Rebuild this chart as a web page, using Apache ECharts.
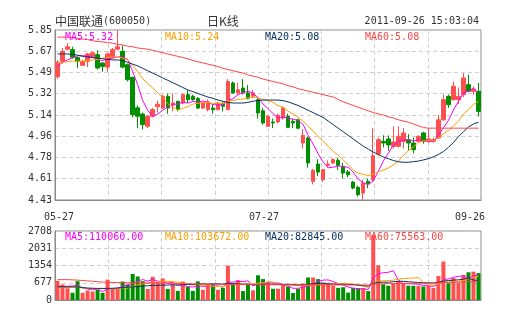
<!DOCTYPE html>
<html><head><meta charset="utf-8">
<script src="https://cdn.jsdelivr.net/npm/echarts@6/dist/echarts.min.js"></script>
<style>html,body{margin:0;padding:0;background:#fff}#c{width:505px;height:330px}</style>
</head><body><div id="c"></div>
<script>
const dates = ['05-27','05-30','05-31',
'06-01','06-02','06-03','06-07','06-08','06-09','06-10','06-13','06-14','06-15','06-16','06-17','06-20','06-21','06-22','06-23','06-24','06-27','06-28','06-29','06-30',
'07-01','07-04','07-05','07-06','07-07','07-08','07-11','07-12','07-13','07-14','07-15','07-18','07-19','07-20','07-21','07-22','07-25','07-26','07-27','07-28','07-29',
'08-01','08-02','08-03','08-04','08-05','08-08','08-09','08-10','08-11','08-12','08-15','08-16','08-17','08-18','08-19','08-22','08-23','08-24','08-25','08-26','08-29','08-30','08-31',
'09-01','09-02','09-05','09-06','09-07','09-08','09-09','09-13','09-14','09-15','09-16','09-19','09-20','09-21','09-22','09-23','09-26'];

const opens = [5.46,5.588,5.69,5.686,5.62,5.555,5.588,5.63,5.644,5.574,
5.54,5.62,5.69,5.672,5.56,5.455,5.20,5.148,5.046,5.13,
5.21,5.198,5.296,5.223,5.254,5.24,5.31,5.296,5.277,5.198,
5.185,5.198,5.185,5.232,5.185,5.407,5.324,5.365,5.324,5.296,
5.268,5.176,5.046,5.082,5.082,5.115,5.129,5.087,5.10,4.906,
4.948,4.586,4.73,4.60,4.72,4.739,4.762,4.71,4.665,4.58,
4.536,4.488,4.586,4.60,4.814,4.92,4.94,4.878,4.878,4.92,
4.934,4.906,4.92,4.99,4.92,4.92,4.948,5.10,5.296,5.268,
5.268,5.31,5.393,5.338,5.338];
const closes = [5.58,5.672,5.71,5.622,5.59,5.588,5.65,5.66,5.533,5.546,
5.65,5.686,5.71,5.54,5.435,5.143,5.13,5.06,5.129,5.185,
5.23,5.296,5.198,5.24,5.185,5.31,5.268,5.268,5.198,5.24,
5.25,5.185,5.24,5.213,5.42,5.324,5.35,5.324,5.28,5.324,
5.157,5.073,5.13,5.074,5.137,5.198,5.037,5.073,5.03,4.97,
4.739,4.678,4.663,4.684,4.73,4.767,4.72,4.655,4.64,4.53,
4.474,4.572,4.567,4.80,4.934,4.906,4.89,4.914,4.962,4.99,
4.906,4.85,4.962,4.92,4.94,4.935,5.10,5.268,5.226,5.38,
5.296,5.449,5.338,5.357,5.17];
const lows = [5.44,5.57,5.68,5.61,5.53,5.55,5.54,5.62,5.52,5.50,
5.50,5.61,5.68,5.53,5.42,5.12,5.03,5.02,5.03,5.12,
5.16,5.19,5.15,5.17,5.17,5.23,5.24,5.26,5.19,5.19,
5.17,5.15,5.18,5.17,5.18,5.32,5.31,5.31,5.27,5.28,
5.11,5.06,5.04,5.03,5.07,5.10,5.03,5.03,5.02,4.86,
4.70,4.56,4.63,4.58,4.70,4.73,4.68,4.61,4.62,4.52,
4.46,4.43,4.53,4.59,4.80,4.87,4.84,4.86,4.87,4.86,
4.84,4.82,4.91,4.90,4.91,4.91,4.94,5.09,5.20,5.26,
5.23,5.29,5.33,5.31,5.128];
const highs = [5.60,5.70,5.74,5.71,5.63,5.60,5.66,5.67,5.68,5.58,
5.66,5.70,5.85,5.72,5.57,5.46,5.22,5.16,5.14,5.20,
5.26,5.31,5.32,5.32,5.26,5.32,5.35,5.31,5.29,5.25,
5.27,5.23,5.25,5.25,5.44,5.42,5.41,5.44,5.39,5.35,
5.28,5.20,5.14,5.11,5.15,5.21,5.15,5.11,5.11,5.02,
4.96,4.69,4.77,4.69,4.76,4.78,4.78,4.74,4.68,4.59,
4.55,4.60,4.61,5.03,4.95,4.97,4.97,5.045,5.045,5.03,
4.98,4.95,4.97,5.00,5.03,4.95,5.14,5.31,5.31,5.42,
5.37,5.49,5.476,5.38,5.407];

const ma5 = [5.545,5.58,5.60,5.62,5.635,5.636,5.632,5.622,5.604,5.595,
5.608,5.615,5.625,5.626,5.604,5.503,5.392,5.262,5.179,5.129,
5.147,5.18,5.208,5.23,5.23,5.246,5.24,5.254,5.246,5.257,
5.245,5.228,5.223,5.226,5.262,5.276,5.309,5.326,5.34,5.32,
5.287,5.232,5.193,5.152,5.114,5.122,5.115,5.104,5.095,5.062,
4.97,4.898,4.816,4.747,4.699,4.704,4.713,4.711,4.702,4.662,
4.604,4.574,4.557,4.589,4.669,4.756,4.819,4.889,4.921,4.932,
4.932,4.924,4.934,4.926,4.916,4.921,4.971,5.033,5.094,5.182,
5.254,5.324,5.338,5.364,5.322];
const ma10 = [5.57,5.58,5.585,5.59,5.59,5.59,5.595,5.60,5.605,5.615,
5.622,5.624,5.624,5.615,5.60,5.555,5.503,5.443,5.403,5.367,
5.325,5.286,5.235,5.205,5.18,5.196,5.21,5.231,5.238,5.243,
5.245,5.234,5.238,5.236,5.259,5.261,5.269,5.274,5.283,5.291,
5.282,5.271,5.26,5.246,5.217,5.205,5.173,5.148,5.123,5.088,
5.046,5.007,4.96,4.921,4.88,4.837,4.805,4.764,4.725,4.681,
4.654,4.644,4.634,4.646,4.666,4.68,4.697,4.723,4.755,4.801,
4.844,4.872,4.911,4.923,4.924,4.927,4.948,4.983,5.01,5.049,
5.088,5.148,5.185,5.229,5.252];
const ma20 = [5.65,5.65,5.65,5.645,5.64,5.63,5.625,5.62,5.615,5.61,
5.605,5.60,5.60,5.595,5.58,5.565,5.55,5.53,5.51,5.49,
5.47,5.45,5.43,5.41,5.39,5.37,5.35,5.335,5.32,5.305,
5.29,5.28,5.265,5.255,5.245,5.24,5.24,5.24,5.245,5.255,
5.26,5.265,5.265,5.265,5.265,5.26,5.25,5.235,5.22,5.20,
5.18,5.16,5.14,5.12,5.09,5.06,5.03,5.00,4.97,4.94,
4.91,4.88,4.855,4.83,4.81,4.79,4.775,4.76,4.75,4.745,
4.745,4.75,4.755,4.765,4.775,4.79,4.81,4.835,4.87,4.91,
4.96,5.00,5.04,5.065,5.08];
const ma60 = [5.79,5.79,5.79,5.785,5.78,5.775,5.77,5.76,5.755,5.75,
5.745,5.74,5.73,5.725,5.715,5.71,5.70,5.695,5.69,5.68,
5.67,5.66,5.65,5.64,5.63,5.62,5.61,5.595,5.585,5.575,
5.565,5.555,5.545,5.53,5.52,5.51,5.50,5.49,5.475,5.465,
5.455,5.44,5.43,5.42,5.41,5.40,5.385,5.375,5.36,5.35,
5.34,5.33,5.32,5.31,5.30,5.29,5.27,5.25,5.235,5.22,
5.205,5.19,5.175,5.16,5.15,5.14,5.125,5.115,5.10,5.09,
5.08,5.065,5.05,5.035,5.03,5.03,5.03,5.03,5.03,5.03,
5.03,5.03,5.03,5.03,5.03];

const volumes = [750,610,460,283,739,283,369,332,394,283,
800,431,431,726,603,1022,923,739,431,911,
702,849,431,603,357,726,517,357,730,400,
610,630,400,478,1350,650,780,350,635,380,
970,820,690,440,440,615,528,274,440,640,
884,884,820,674,677,570,476,502,290,476,
465,465,350,2550,1360,617,560,645,752,650,
560,560,550,531,560,476,940,1510,655,858,
686,985,1088,1113,1055];
const vma5 = [520,530,540,550,568,475,427,401,423,332,
436,448,468,534,598,643,741,803,744,805,
741,726,665,699,588,593,527,512,537,546,
523,545,554,504,694,702,732,722,753,559,
623,631,699,660,672,601,543,459,459,499,
553,624,734,780,788,725,643,580,503,463,
442,440,409,861,1038,1068,1087,1146,787,645,
633,633,614,570,552,535,611,803,828,888,
930,939,854,946,985];
const vma10 = [480,485,490,495,500,470,450,440,440,450,
455,437,435,479,465,539,595,635,639,702,
692,734,734,721,697,667,627,588,618,567,
558,536,533,521,620,612,639,638,628,626,
662,681,710,707,616,612,587,579,560,586,
577,584,597,620,644,639,634,657,642,625,
583,542,495,682,750,755,764,778,824,841,
851,860,880,679,599,584,622,709,699,720,
733,775,829,887,937];
const vma20 = [517,517,517,517,510,490,470,460,455,455,
455,460,470,490,505,515,530,545,560,576,
574,586,584,600,581,603,611,612,629,634,
625,635,633,621,658,640,633,613,623,597,
610,609,622,614,618,612,613,609,594,606,
620,632,653,663,630,626,610,618,601,606,
580,563,546,651,697,697,699,717,733,733,
717,701,687,680,674,670,693,743,762,781,
792,818,855,783,768];
const vma60 = [800,800,800,790,780,765,750,735,720,705,
695,690,685,680,680,678,676,674,672,670,
665,660,655,650,645,640,636,632,628,625,
622,620,618,616,614,612,610,608,606,604,
602,600,600,598,598,596,596,594,594,592,
592,592,592,592,592,592,590,590,590,590,
590,590,590,615,630,635,640,645,650,652,
654,656,658,660,663,666,672,685,692,700,
706,712,720,726,735];

const priceTicks = ['4.43','4.61','4.78','4.96','5.14','5.32','5.49','5.67','5.85'];
const volTicks = ['0','677','1354','2031','2708'];
const xTickIdx = [0, 42, 84];

const priceMin = 4.43, priceMax = 5.85, priceStep = (5.85 - 4.43) / 8;
const volMax = 2708, volStep = 677;

const UP = '#ff4f4f', DOWN = '#008f00';
const C5 = '#ff00ff', C10 = '#ffa000', C20 = '#0a3264', C60 = '#ff4545';
const MONO = 'DejaVu Sans Mono';
const CJK = 'Noto Sans CJK SC';

const kData = opens.map((o, i) => [o, closes[i], lows[i], highs[i]]);
const volData = volumes.map((v, i) => ({
  value: v,
  itemStyle: { color: closes[i] >= opens[i] ? UP : DOWN }
}));

const dashed = { show: true, lineStyle: { color: '#d0d0d0', type: [4, 3], width: 1 } };

function line(name, data, color, xi, yi) {
  return { name, type: 'line', data, xAxisIndex: xi, yAxisIndex: yi, symbol: 'none',
    lineStyle: { color, width: 1 }, itemStyle: { color }, z: 5, silent: true, animation: false };
}

const chart = echarts.init(document.getElementById('c'), null, { renderer: 'canvas' });
chart.setOption({
  animation: false,
  backgroundColor: '#fff',
  grid: [
    { left: 55, top: 30, width: 426, height: 170, show: true, borderColor: '#8a8a8a', borderWidth: 1 },
    { left: 55, top: 231, width: 426, height: 69, show: true, borderColor: '#8a8a8a', borderWidth: 1 }
  ],
  xAxis: [
    { type: 'category', gridIndex: 0, data: dates, boundaryGap: true,
      axisLine: { show: true, lineStyle: { color: '#8a8a8a', width: 1 } },
      axisTick: { show: false }, splitLine: { show: false },
      axisLabel: {
        interval: (i) => xTickIdx.indexOf(i) >= 0,
        margin: 12,
        formatter: (v, i) => {
          const k = xTickIdx.indexOf(i);
          return '{' + (['a', 'b', 'c'][k] || 'a') + '|' + v + '}';
        },
        rich: {
          a: { fontFamily: MONO, fontSize: 10, color: '#333', padding: [0, 0, 0, 3] },
          b: { fontFamily: MONO, fontSize: 10, color: '#333', padding: [0, 8, 0, 0] },
          c: { fontFamily: MONO, fontSize: 10, color: '#333', padding: [0, 17, 0, 0] }
        }
      } },
    { type: 'value', gridIndex: 0, min: 0, max: 8, interval: 1, position: 'top',
      axisLine: { show: false }, axisTick: { show: false }, axisLabel: { show: false },
      splitLine: dashed },
    { type: 'category', gridIndex: 1, data: dates, boundaryGap: true,
      axisLine: { show: true, lineStyle: { color: '#8a8a8a' } },
      axisTick: { show: false }, axisLabel: { show: false }, splitLine: { show: false } },
    { type: 'value', gridIndex: 1, min: 0, max: 8, interval: 1, position: 'top',
      axisLine: { show: false }, axisTick: { show: false }, axisLabel: { show: false },
      splitLine: dashed }
  ],
  yAxis: [
    { type: 'value', gridIndex: 0, min: priceMin, max: priceMax, interval: priceStep,
      axisLine: { show: true, lineStyle: { color: '#8a8a8a' } }, axisTick: { show: false },
      splitLine: dashed,
      axisLabel: { margin: 3, fontFamily: MONO, fontSize: 10, color: '#333',
        showMinLabel: true, showMaxLabel: true,
        formatter: (v) => priceTicks[Math.round((v - priceMin) / priceStep)] } },
    { type: 'value', gridIndex: 1, min: 0, max: volMax, interval: volStep,
      axisLine: { show: true, lineStyle: { color: '#8a8a8a' } }, axisTick: { show: false },
      splitLine: dashed,
      axisLabel: { margin: 3, fontFamily: MONO, fontSize: 10, color: '#333',
        showMinLabel: true, showMaxLabel: true,
        formatter: (v) => volTicks[Math.round(v / volStep)] } }
  ],
  series: [
    { name: 'K', type: 'candlestick', data: kData, xAxisIndex: 0, yAxisIndex: 0, barWidth: 4, z: 3,
      itemStyle: { color: UP, color0: DOWN, borderColor: UP, borderColor0: DOWN, borderWidth: 1 } },
    line('MA5', ma5, C5, 0, 0),
    line('MA10', ma10, C10, 0, 0),
    line('MA20', ma20, C20, 0, 0),
    line('MA60', ma60, C60, 0, 0),
    { name: 'VOL', type: 'bar', data: volData, xAxisIndex: 2, yAxisIndex: 1, barWidth: 4, z: 3 },
    line('VMA5', vma5, C5, 2, 1),
    line('VMA10', vma10, C10, 2, 1),
    line('VMA20', vma20, C20, 2, 1),
    line('VMA60', vma60, C60, 2, 1)
  ],
  graphic: [
    { type: 'text', x: 55, y: 21, z: 100, style: { text: '中国联通', font: '12px "' + CJK + '"', fill: '#333', verticalAlign: 'middle' } },
    { type: 'text', x: 103, y: 21, z: 100, style: { text: '(600050)', font: '10px "' + MONO + '"', fill: '#333', verticalAlign: 'middle' } },
    { type: 'text', x: 207, y: 21, z: 100, style: { text: '日K线', font: '12px "' + CJK + '"', fill: '#333', verticalAlign: 'middle' } },
    { type: 'text', x: 479, y: 21, z: 100, style: { text: '2011-09-26 15:03:04', font: '10px "' + MONO + '"', fill: '#333', align: 'right', verticalAlign: 'middle' } },
    { type: 'text', x: 65, y: 37, z: 100, style: { text: 'MA5:5.32', font: '10px "' + MONO + '"', fill: C5, verticalAlign: 'middle' } },
    { type: 'text', x: 165, y: 37, z: 100, style: { text: 'MA10:5.24', font: '10px "' + MONO + '"', fill: C10, verticalAlign: 'middle' } },
    { type: 'text', x: 265, y: 37, z: 100, style: { text: 'MA20:5.08', font: '10px "' + MONO + '"', fill: C20, verticalAlign: 'middle' } },
    { type: 'text', x: 365, y: 37, z: 100, style: { text: 'MA60:5.08', font: '10px "' + MONO + '"', fill: C60, verticalAlign: 'middle' } },
    { type: 'text', x: 65, y: 237, z: 100, style: { text: 'MA5:110060.00', font: '10px "' + MONO + '"', fill: C5, verticalAlign: 'middle' } },
    { type: 'text', x: 165, y: 237, z: 100, style: { text: 'MA10:103672.00', font: '10px "' + MONO + '"', fill: C10, verticalAlign: 'middle' } },
    { type: 'text', x: 265, y: 237, z: 100, style: { text: 'MA20:82845.00', font: '10px "' + MONO + '"', fill: C20, verticalAlign: 'middle' } },
    { type: 'text', x: 365, y: 237, z: 100, style: { text: 'MA60:75563.00', font: '10px "' + MONO + '"', fill: C60, verticalAlign: 'middle' } }
  ]
});
</script>
</body></html>
